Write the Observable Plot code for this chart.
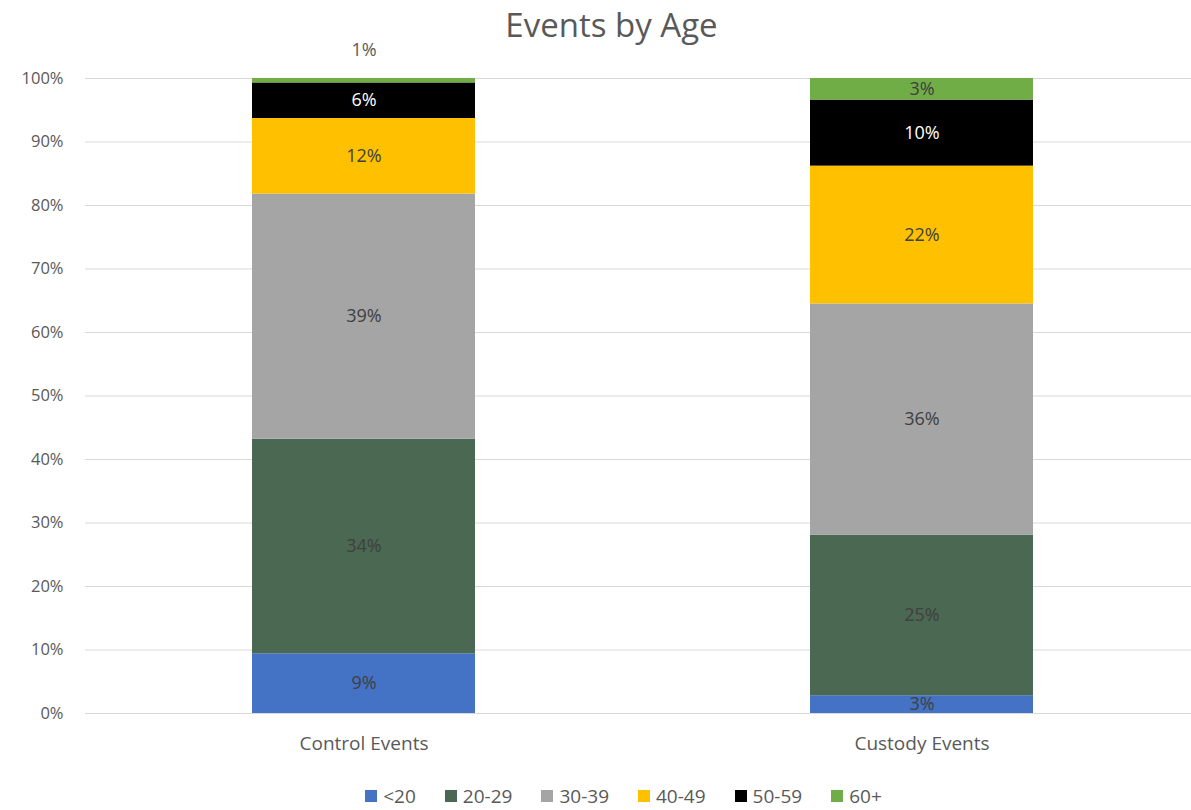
<!DOCTYPE html>
<html>
<head>
<meta charset="utf-8">
<script src="https://cdn.jsdelivr.net/npm/d3@7"></script>
<script src="https://cdn.jsdelivr.net/npm/@observablehq/plot@0.6"></script>
<style>
  body { margin: 0; background: #fff; font-family: "Open Sans", Lato, sans-serif; }
  #title { height: 30px; line-height: 50px; font-size: 33px; color: #595959; text-align: center; padding-left: 32px; box-sizing: border-box; width: 1191px; overflow: visible; position: relative; z-index: 1; }
  #legend { display: flex; justify-content: center; gap: 29px; font-size: 19px; color: #595959; margin-top: 13px; padding-left: 56px; width: 1191px; box-sizing: border-box; }
  #legend span.sw { display: inline-block; width: 12px; height: 12px; margin-right: 6px; }
  #legend .item { display: flex; align-items: center; }
</style>
</head>
<body>
<div id="title">Events by Age</div>
<div id="chart"></div>
<div id="legend"></div>
<script>
const categories = ["Control Events", "Custody Events"];
const ageGroups = ["<20", "20-29", "30-39", "40-49", "50-59", "60+"];
const colors = ["#4472C4", "#4A6852", "#A5A5A5", "#FFC000", "#000000", "#70AD47"];
const controlValues = [9.4, 33.8, 38.6, 11.9, 5.6, 0.7];
const custodyValues = [2.8, 25.3, 36.4, 21.7, 10.4, 3.4];
const yTicks = [0, 10, 20, 30, 40, 50, 60, 70, 80, 90, 100];

const data = [];
ageGroups.forEach((g, i) => {
  data.push({cat: categories[0], group: g, value: controlValues[i]});
  data.push({cat: categories[1], group: g, value: custodyValues[i]});
});

const labelColor = d => d.group === "50-59" ? "#ffffff" : "#404040";
const pct = d => Math.round(d.value) + "%";

const chart = Plot.plot({
  width: 1191,
  height: 740,
  marginTop: 48,
  marginBottom: 57,
  marginLeft: 85,
  marginRight: 0,
  style: {fontFamily: "'Open Sans', Lato, sans-serif", fontSize: "16.5px", color: "#595959", background: "transparent"},
  x: {domain: categories, range: [85, 1201], paddingInner: 0.6, paddingOuter: 0.3, label: null, tickSize: 0, tickPadding: 23},
  y: {domain: [0, 100], ticks: yTicks, tickFormat: d => d + "%", label: null, tickSize: 0, tickPadding: 22},
  color: {domain: ageGroups, range: colors},
  marks: [
    Plot.ruleY(yTicks, {stroke: "#d9d9d9", strokeWidth: 1}),
    Plot.barY(data, Plot.stackY({x: "cat", y: "value", z: "group", order: ageGroups, fill: "group"})),
    Plot.text(data, Plot.stackY({
      x: "cat", y: "value", z: "group", order: ageGroups,
      text: d => d.value >= 2 ? pct(d) : "",
      fill: labelColor,
      fontSize: 18
    })),
    Plot.text(data, Plot.stackY2({
      x: "cat", y: "value", z: "group", order: ageGroups,
      text: d => d.value < 2 ? pct(d) : "",
      fill: "#595959",
      dy: -28,
      fontSize: 18
    })),
    Plot.axisX({tickSize: 0, tickPadding: 23, fontSize: 19, label: null})
  ]
});
document.getElementById("chart").appendChild(chart);

const legend = document.getElementById("legend");
ageGroups.forEach((g, i) => {
  const item = document.createElement("div");
  item.className = "item";
  const sw = document.createElement("span");
  sw.className = "sw";
  sw.style.background = colors[i];
  item.appendChild(sw);
  item.appendChild(document.createTextNode(g));
  legend.appendChild(item);
});
</script>
</body>
</html>
